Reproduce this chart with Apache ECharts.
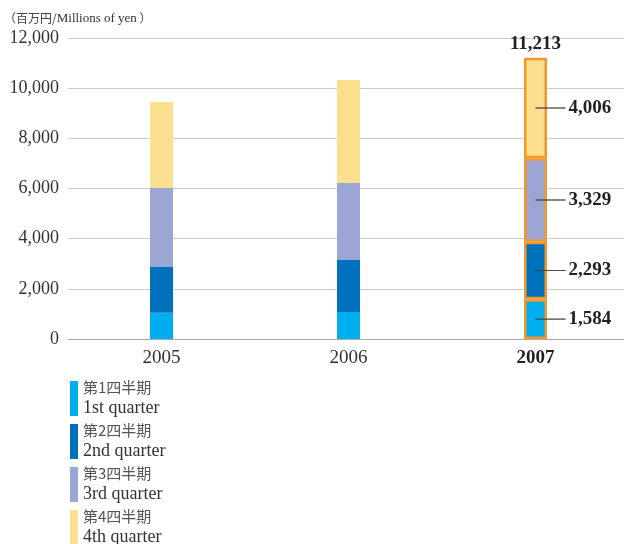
<!DOCTYPE html>
<html>
<head>
<meta charset="utf-8">
<script src="https://cdn.jsdelivr.net/npm/echarts@6/dist/echarts.min.js"></script>
<style>
  html, body { margin: 0; padding: 0; background: #fff; }
  #chart { width: 624px; height: 544px; }
</style>
</head>
<body>
<div id="chart"></div>
<script>
// Fiscal years on the x axis
const years = ['2005', '2006', '2007'];

// Quarterly sales, millions of yen
const q1 = [1048, 1076, 1584];
const q2 = [1822, 2074, 2293];
const q3 = [3150, 3070, 3329];
const q4 = [3430, 4110, 4006];

// Stated full-year total for the highlighted year
const totalYear = '2007';
const totalValue = 11213;

// Legend names (Japanese / English)
const quarterJa = ['第1四半期', '第2四半期', '第3四半期', '第4四半期'];
const quarterEn = ['1st quarter', '2nd quarter', '3rd quarter', '4th quarter'];

const yTicks = [0, 2000, 4000, 6000, 8000, 10000, 12000];

const colors = ['#00AEEF', '#0071BC', '#9BA6D5', '#FDE08F'];
const SERIF = '"Liberation Serif", "Times New Roman", serif';
const JP = '"Noto Sans CJK JP", sans-serif';
const highlight = years.length - 1;

const fmt = v => Number(v).toLocaleString('en-US');

function makeSeries(idx, values) {
  return {
    name: quarterEn[idx],
    type: 'bar',
    stack: 'total',
    barWidth: 23,
    itemStyle: { color: colors[idx] },
    emphasis: { disabled: true },
    data: values.map((v, i) => {
      if (i !== highlight) return v;
      return {
        value: v,
        itemStyle: { color: colors[idx], borderColor: '#F5962A', borderWidth: 2.5 },
        label: {
          show: true,
          position: ['50%', '50%'],
          align: 'left',
          verticalAlign: 'middle',
          formatter: p => '{ln|}{v|' + fmt(p.value) + '}',
          rich: {
            ln: { width: 30, height: 0, borderWidth: 0.8, borderColor: '#444' },
            v: { fontFamily: SERIF, fontWeight: 'bold', fontSize: 19, color: '#222', padding: [0, 0, 0, 3] }
          }
        }
      };
    })
  };
}

const chart = echarts.init(document.getElementById('chart'));
chart.setOption({
  animation: false,
  backgroundColor: '#fff',
  title: {
    left: -1,
    top: 7,
    text: '{jp|（百万円/}{en|Millions of yen}{jp| ）}',
    textStyle: {
      fontWeight: 'normal',
      rich: {
        jp: { fontFamily: JP, fontSize: 12, color: '#444', fontWeight: 'normal' },
        en: { fontFamily: SERIF, fontSize: 13, color: '#333', fontWeight: 'normal' }
      }
    }
  },
  grid: { left: 68, width: 561, top: 38, bottom: 205, outerBoundsMode: 'none' },
  legend: {
    orient: 'vertical',
    left: 65,
    top: 372,
    height: 300,
    itemWidth: 8,
    itemHeight: 35,
    itemGap: 0,
    itemTextGap: 6,
    icon: 'rect',
    selectedMode: false,
    data: quarterEn,
    formatter: name => {
      const i = quarterEn.indexOf(name);
      return '{jp|' + quarterJa[i] + '}\n{en|' + quarterEn[i] + '}';
    },
    textStyle: {
      lineHeight: 21,
      rich: {
        jp: { fontFamily: JP, fontSize: 15, color: '#555', lineHeight: 20 },
        en: { fontFamily: SERIF, fontSize: 18, color: '#333', lineHeight: 23 }
      }
    }
  },
  xAxis: {
    type: 'category',
    data: years,
    axisLine: { lineStyle: { color: '#aaa', width: 1 } },
    axisTick: { show: false },
    axisLabel: {
      margin: 10,
      fontFamily: SERIF,
      fontSize: 19,
      color: '#333',
      formatter: (v, i) => i === highlight ? '{b|' + v + '}' : v,
      rich: { b: { fontFamily: SERIF, fontSize: 19, fontWeight: 'bold', color: '#222' } }
    }
  },
  yAxis: {
    type: 'value',
    min: yTicks[0],
    max: yTicks[yTicks.length - 1],
    interval: yTicks[1] - yTicks[0],
    axisLine: { show: false },
    axisTick: { show: false },
    splitLine: { lineStyle: { color: '#ccc', width: 1 } },
    axisLabel: {
      margin: 9,
      fontFamily: SERIF,
      fontSize: 18,
      color: '#333',
      formatter: v => fmt(v)
    }
  },
  series: [
    makeSeries(0, q1),
    makeSeries(1, q2),
    makeSeries(2, q3),
    makeSeries(3, q4),
    {
      name: 'total',
      type: 'scatter',
      symbolSize: 1,
      silent: true,
      itemStyle: { color: 'rgba(0,0,0,0)' },
      data: [[totalYear, totalValue]],
      label: {
        show: true,
        position: 'top',
        distance: 4,
        formatter: p => fmt(p.value[1]),
        fontFamily: SERIF,
        fontWeight: 'bold',
        fontSize: 19,
        color: '#222',
        opacity: 1,
        textBorderWidth: 0
      }
    }
  ]
});
</script>
</body>
</html>
